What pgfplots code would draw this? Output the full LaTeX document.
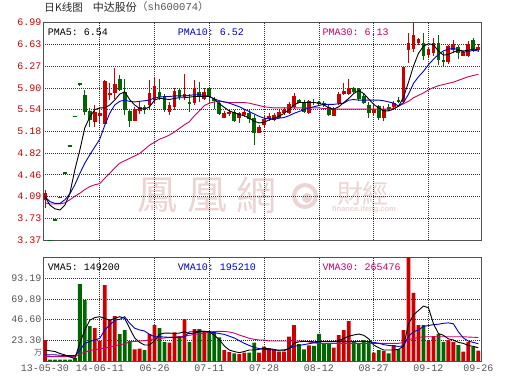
\documentclass[border=0pt]{standalone}
\usepackage{pgfplots}
\pgfplotsset{compat=1.18}
\usepackage{pgfplotstable}
\usepackage{fontspec}
\setmainfont{Liberation Sans}
\setmonofont{Liberation Mono}
\newfontfamily\cjk{Noto Sans CJK SC}
\newfontfamily\cjktc{Noto Sans CJK TC}

\definecolor{cred}{RGB}{204,0,0}
\definecolor{cgreen}{RGB}{0,102,0}
\definecolor{mblue}{RGB}{0,0,204}
\definecolor{mpink}{RGB}{204,0,102}
\definecolor{tgray}{RGB}{85,85,85}
\definecolor{framec}{RGB}{80,80,80}
\definecolor{gridc}{RGB}{50,50,50}
\definecolor{wm}{RGB}{236,212,212}

\pgfplotsset{
  up/.style={restrict expr to domain={\thisrow{d}}{0.5:1.5}},
  down/.style={restrict expr to domain={\thisrow{d}}{-0.5:0.5}},
  stick/.style 2 args={draw=none, no markers, forget plot,
    error bars/.cd, y dir=both, y explicit, error mark=none,
    error bar style={draw=#1, line width=#2}},
  panel/.style={
    scale only axis, width=438.4bp,
    xmin=-0.34, xmax=87.69,
    axis line style={draw=framec, line width=1bp},
    major tick length=0pt,
    grid=major,
    major grid style={gridc, line width=0.7bp, dash pattern=on 1bp off 1bp},
    xtick={11,22,33,44,55,66,77},
    tick label style={font=\ttfamily\fontsize{10bp}{12bp}\selectfont},
    yticklabel style={inner sep=1.6bp},
    clip=true,
  },
}

% i open high low close volume(10k) up(1)/down(0)
\pgfplotstableread{
i o h l c v d
0 4.03 4.20 3.90 4.15 23.6 1
1 3.37 3.37 3.37 3.37 1.5 0
2 3.71 3.71 3.71 3.71 1.5 0
3 4.08 4.08 4.08 4.08 1.5 0
4 4.49 4.49 4.49 4.49 1.5 0
5 4.94 4.94 4.94 4.94 1.5 0
6 5.43 5.43 5.43 5.43 3.5 0
7 5.97 5.99 5.93 5.97 86.7 0
8 5.79 5.87 5.45 5.51 68.7 0
9 5.52 5.57 5.25 5.37 39.4 0
10 5.34 5.62 5.25 5.51 37.2 1
11 5.44 5.57 5.32 5.48 22.9 1
12 5.31 6.03 5.30 6.02 85.6 1
13 5.78 5.98 5.70 5.82 46.9 1
14 5.82 6.24 5.72 5.97 50.7 1
15 6.05 6.12 5.85 5.87 30.4 0
16 5.84 6.05 5.45 5.53 34.9 0
17 5.52 5.56 5.26 5.36 22.5 0
18 5.36 5.58 5.36 5.55 13.2 1
19 5.52 5.67 5.47 5.59 13.9 1
20 5.59 5.62 5.47 5.56 12.4 0
21 5.62 6.04 5.56 5.82 30.4 1
22 5.70 6.08 5.65 5.93 40.5 1
23 5.84 6.05 5.71 5.76 37.2 0
24 5.76 5.81 5.51 5.55 21.4 0
25 5.51 5.67 5.45 5.62 20.6 1
26 5.59 5.91 5.54 5.85 32.3 1
27 5.87 5.91 5.71 5.76 28.1 0
28 5.76 6.14 5.70 5.81 47.3 1
29 5.67 5.81 5.51 5.65 21.4 0
30 5.65 6.04 5.62 5.90 36.0 1
31 5.84 6.01 5.67 5.76 36.0 0
32 5.72 5.90 5.70 5.83 33.4 1
33 5.90 5.91 5.65 5.76 33.4 0
34 5.72 5.75 5.55 5.69 33.4 0
35 5.66 5.67 5.45 5.47 26.7 0
36 5.41 5.52 5.40 5.48 12.4 1
37 5.47 5.53 5.43 5.51 10.1 1
38 5.51 5.53 5.34 5.35 8.6 0
39 5.41 5.50 5.32 5.48 7.9 1
40 5.45 5.53 5.42 5.51 9.4 1
41 5.48 5.53 5.32 5.38 9.4 0
42 5.41 5.45 4.95 5.16 20.6 0
43 5.16 5.28 5.15 5.26 9.4 1
44 5.29 5.45 5.26 5.39 16.1 1
45 5.38 5.48 5.35 5.44 14.3 1
46 5.37 5.48 5.35 5.45 13.2 1
47 5.41 5.53 5.40 5.51 10.5 1
48 5.49 5.58 5.45 5.54 10.5 1
49 5.49 5.67 5.47 5.63 27.4 1
50 5.59 5.82 5.56 5.77 40.5 1
51 5.71 5.72 5.65 5.66 19.1 0
52 5.67 5.71 5.49 5.51 13.2 0
53 5.49 5.71 5.47 5.68 17.7 1
54 5.67 5.72 5.62 5.66 17.2 0
55 5.66 5.69 5.62 5.65 30.7 0
56 5.65 5.68 5.58 5.62 19.9 0
57 5.59 5.62 5.44 5.45 19.9 0
58 5.44 5.58 5.43 5.56 15.0 1
59 5.65 5.84 5.62 5.80 29.3 1
60 5.80 5.98 5.78 5.85 34.9 1
61 5.81 6.06 5.79 5.91 45.0 1
62 5.90 5.92 5.82 5.84 21.7 0
63 5.88 5.90 5.68 5.72 19.9 0
64 5.77 5.82 5.64 5.65 23.6 0
65 5.62 5.67 5.41 5.48 21.7 0
66 5.48 5.60 5.46 5.56 9.4 1
67 5.60 5.62 5.37 5.40 12.4 0
68 5.40 5.60 5.36 5.55 11.3 1
69 5.58 5.63 5.52 5.55 8.6 0
70 5.59 5.68 5.57 5.65 18.0 1
71 5.71 5.75 5.65 5.67 13.2 0
72 5.67 6.27 5.66 6.26 34.9 1
73 6.54 6.81 6.32 6.65 125 1
74 6.55 6.98 6.50 6.79 76.9 1
75 6.65 6.74 6.62 6.72 40.5 1
76 6.66 6.81 6.37 6.44 40.5 0
77 6.46 6.58 6.42 6.56 22.5 1
78 6.49 6.74 6.43 6.66 28.1 1
79 6.65 6.79 6.29 6.37 30.4 0
80 6.37 6.51 6.26 6.35 21.7 0
81 6.33 6.62 6.31 6.60 23.6 1
82 6.53 6.71 6.49 6.63 21.7 1
83 6.59 6.62 6.38 6.48 18.0 0
84 6.44 6.52 6.43 6.50 10.5 1
85 6.44 6.68 6.42 6.63 21.7 1
86 6.70 6.73 6.51 6.56 16.1 0
87 6.54 6.63 6.50 6.59 11.6 1
}\candles

% moving averages
\pgfplotstableread{
i m5 m10 m30 vm5 vm10 vm30
0 4.09 4.09 3.99 12.4 6.8 4.9
1 3.95 4.01 3.97 11.5 7.0 4.9
2 3.89 3.98 3.97 10.7 7.0 4.9
3 3.87 3.98 3.97 8.5 6.5 4.9
4 3.95 4.04 3.99 6.8 6.3 4.9
5 4.15 4.14 4.04 4.5 6.0 4.9
6 4.54 4.29 4.10 3.0 6.0 4.9
7 4.87 4.48 4.15 20.0 12.0 8.0
8 5.24 4.65 4.21 35.0 20.0 9.7
9 5.42 4.79 4.26 46.0 22.0 12.0
10 5.54 4.92 4.29 49.0 23.7 12.4
11 5.57 5.05 4.31 50.0 25.5 14.0
12 5.57 5.28 4.40 48.0 34.9 14.3
13 5.62 5.48 4.48 46.0 40.5 16.0
14 5.70 5.62 4.57 48.0 46.0 17.0
15 5.80 5.68 4.65 50.0 47.0 18.5
16 5.84 5.70 4.69 48.0 50.0 19.2
17 5.71 5.68 4.73 37.0 42.6 21.8
18 5.62 5.67 4.77 26.0 37.0 22.0
19 5.56 5.68 4.81 21.0 35.0 22.5
20 5.55 5.69 4.88 18.0 33.8 23.0
21 5.59 5.70 4.95 18.0 30.0 23.7
22 5.70 5.74 5.00 23.0 27.4 24.5
23 5.73 5.75 5.05 30.0 27.4 25.5
24 5.72 5.76 5.08 31.5 27.0 26.0
25 5.71 5.76 5.12 31.5 26.7 26.7
26 5.73 5.77 5.17 31.0 26.7 27.0
27 5.74 5.77 5.23 31.5 26.7 27.4
28 5.74 5.77 5.29 33.0 27.0 28.0
29 5.75 5.78 5.34 31.0 33.0 29.0
30 5.76 5.79 5.44 31.5 33.0 30.0
31 5.76 5.79 5.52 33.0 33.8 30.4
32 5.76 5.78 5.61 33.4 33.5 31.5
33 5.76 5.76 5.65 33.0 33.0 32.7
34 5.72 5.72 5.67 29.0 32.0 33.2
35 5.64 5.69 5.68 24.0 31.0 33.5
36 5.58 5.67 5.67 17.0 30.0 33.3
37 5.52 5.65 5.66 12.4 28.0 32.7
38 5.49 5.62 5.66 10.7 26.0 31.5
39 5.46 5.59 5.66 9.4 23.0 29.3
40 5.44 5.55 5.66 10.7 20.0 27.5
41 5.40 5.51 5.65 12.4 17.5 25.6
42 5.35 5.47 5.63 12.4 15.5 24.5
43 5.32 5.43 5.61 13.2 14.0 23.7
44 5.33 5.40 5.59 14.3 13.2 23.7
45 5.37 5.39 5.58 13.8 12.6 22.6
46 5.40 5.38 5.57 13.2 12.4 22.6
47 5.43 5.40 5.57 11.6 12.4 22.6
48 5.48 5.41 5.57 11.6 12.6 22.6
49 5.54 5.44 5.57 14.0 14.0 22.6
50 5.62 5.48 5.57 20.0 16.5 22.6
51 5.66 5.51 5.57 21.7 17.5 22.6
52 5.66 5.54 5.57 22.0 18.5 22.6
53 5.66 5.57 5.57 22.0 19.5 21.5
54 5.66 5.59 5.57 21.7 20.5 20.5
55 5.65 5.61 5.57 22.0 21.5 19.9
56 5.62 5.63 5.56 22.0 21.8 19.9
57 5.57 5.63 5.56 22.0 21.8 19.9
58 5.55 5.63 5.55 22.0 21.8 19.9
59 5.59 5.64 5.55 23.0 21.8 19.9
60 5.66 5.65 5.55 25.5 21.8 19.9
61 5.73 5.70 5.55 28.0 21.8 19.9
62 5.81 5.71 5.55 29.3 21.8 19.9
63 5.86 5.70 5.55 30.4 22.0 19.9
64 5.81 5.70 5.55 29.0 22.0 19.9
65 5.72 5.70 5.55 25.0 22.0 19.9
66 5.63 5.70 5.55 18.0 21.0 19.9
67 5.57 5.70 5.55 15.0 20.0 19.9
68 5.52 5.69 5.55 12.4 18.5 19.9
69 5.52 5.67 5.55 12.4 17.5 19.9
70 5.55 5.65 5.56 12.4 17.0 19.9
71 5.60 5.60 5.60 13.0 16.5 19.9
72 5.75 5.66 5.64 17.0 17.0 21.0
73 6.00 5.80 5.68 42.0 28.0 24.0
74 6.27 5.98 5.74 52.0 33.0 25.5
75 6.48 6.09 5.78 57.0 35.0 26.5
76 6.60 6.18 5.82 62.0 39.0 27.4
77 6.64 6.29 5.87 60.0 40.0 27.4
78 6.62 6.38 5.91 42.0 41.0 27.4
79 6.52 6.46 5.94 31.0 41.5 27.4
80 6.45 6.52 5.96 29.0 42.5 27.4
81 6.46 6.55 5.98 25.0 43.0 27.4
82 6.50 6.56 6.00 23.7 42.0 27.4
83 6.53 6.54 6.03 21.0 33.0 27.4
84 6.52 6.50 6.06 19.9 26.0 27.4
85 6.53 6.51 6.09 17.5 22.5 27.0
86 6.55 6.53 6.11 16.5 21.0 26.8
87 6.54 6.52 6.13 14.9 19.5 26.5
}\mas

\begin{document}
\begin{tikzpicture}[x=1bp,y=1bp]
\useasboundingbox (0,0) rectangle (530,391);
\fill[white] (0,0) rectangle (530,391);

% watermark
\node[wm, font=\cjktc\fontsize{40bp}{40bp}\selectfont] at (157,195.5) {鳳};
\node[wm, font=\cjktc\fontsize{40bp}{40bp}\selectfont] at (207,195.5) {凰};
\node[wm, font=\cjktc\fontsize{40bp}{40bp}\selectfont] at (256,195.5) {網};
\draw[wm, line width=4bp] (305,195) circle (11);
\fill[wm] (307,193) circle (5);
\node[wm, font=\cjktc\fontsize{26bp}{26bp}\selectfont] at (350,197.5) {財};
\node[wm, font=\cjktc\fontsize{26bp}{26bp}\selectfont] at (375.5,197.5) {經};
\node[wm, font=\bfseries\fontsize{7.5bp}{8bp}\selectfont] at (364,181) {finance.ifeng.com};

% price panel
\begin{axis}[panel, at={(43.3bp,151bp)}, anchor=south west, height=217.3bp,
  ymin=3.37, ymax=6.99,
  ytick={3.37,3.732,4.094,4.456,4.818,5.18,5.542,5.904,6.266,6.628,6.99},
  yticklabels={3.37,3.73,4.09,4.46,4.82,5.18,5.54,5.90,6.27,6.63,6.99},
  yticklabel style={text=cred},
  xticklabels={},
]
% wicks
\addplot[up, stick={cred}{0.9bp}]
  table[x=i, y expr={(\thisrow{h}+\thisrow{l})/2},
        y error expr={(\thisrow{h}-\thisrow{l})/2}] {\candles};
\addplot[down, stick={cgreen}{0.9bp}]
  table[x=i, y expr={(\thisrow{h}+\thisrow{l})/2},
        y error expr={(\thisrow{h}-\thisrow{l})/2}] {\candles};
% bodies
\addplot[up, stick={cred}{3.8bp}]
  table[x=i, y expr={(\thisrow{o}+\thisrow{c})/2},
        y error expr={max(abs(\thisrow{c}-\thisrow{o})/2,0.008)}] {\candles};
\addplot[down, stick={cgreen}{3.8bp}]
  table[x=i, y expr={(\thisrow{o}+\thisrow{c})/2},
        y error expr={max(abs(\thisrow{c}-\thisrow{o})/2,0.008)}] {\candles};
% moving averages
\addplot[mpink, line width=0.9bp] table[x=i, y=m30] {\mas};
\addplot[mblue, line width=0.9bp] table[x=i, y=m10] {\mas};
\addplot[black, line width=0.9bp] table[x=i, y=m5] {\mas};
\end{axis}

% volume panel
\begin{axis}[panel, at={(43.3bp,30bp)}, anchor=south west, height=103.3bp,
  ymin=0, ymax=116.49,
  ytick={23.298,46.596,69.894,93.192},
  yticklabels={23.30,46.60,69.89,93.19},
  yticklabel style={text=tgray},
  xticklabels={14-06-11,06-26,07-11,07-28,08-12,08-27,09-12},
  extra x ticks={0,87}, extra x tick labels={13-05-30,09-26},
  extra x tick style={grid=none},
  xticklabel style={text=tgray, anchor=center, yshift=-7bp},
]
\addplot[ybar, bar width=3.8bp, bar shift=0pt, fill=cred, draw=none, up]
  table[x=i, y=v] {\candles};
\addplot[ybar, bar width=3.8bp, bar shift=0pt, fill=cgreen, draw=none, down]
  table[x=i, y=v] {\candles};
\addplot[mpink, line width=0.9bp] table[x=i, y=vm30] {\mas};
\addplot[mblue, line width=0.9bp] table[x=i, y=vm10] {\mas};
\addplot[black, line width=0.9bp] table[x=i, y=vm5] {\mas};
\end{axis}

% titles and legends
\node[anchor=west, inner sep=0pt, font=\cjk\fontsize{10.5bp}{12bp}\selectfont, text=black!85] at (44.3,384) {日K线图};
\node[anchor=west, inner sep=0pt, font=\cjk\fontsize{11bp}{12bp}\selectfont, text=black!85] at (92.7,384) {中达股份};
\node[anchor=west, inner sep=0pt, text=tgray, font=\fontsize{10.5bp}{12bp}\selectfont] at (137,384) {{\cjk （}{\ttfamily sh600074}{\cjk ）}};

\begin{scope}[every node/.style={anchor=west, inner sep=0pt, font=\ttfamily\fontsize{10bp}{12bp}\selectfont}]
\node[text=black] at (47.7,358.7) {PMA5: 6.54};
\node[text=mblue] at (177.7,358.7) {PMA10: 6.52};
\node[text=mpink] at (322.3,358.7) {PMA30: 6.13};
\node[text=black] at (47.7,124.3) {VMA5: 149200};
\node[text=mblue] at (177.7,124.3) {VMA10: 195210};
\node[text=mpink] at (322.3,124.3) {VMA30: 265476};
\end{scope}
\node[text=tgray, font=\cjk\fontsize{8bp}{9bp}\selectfont, inner sep=0pt] at (38,38) {万};
\end{tikzpicture}
\end{document}
